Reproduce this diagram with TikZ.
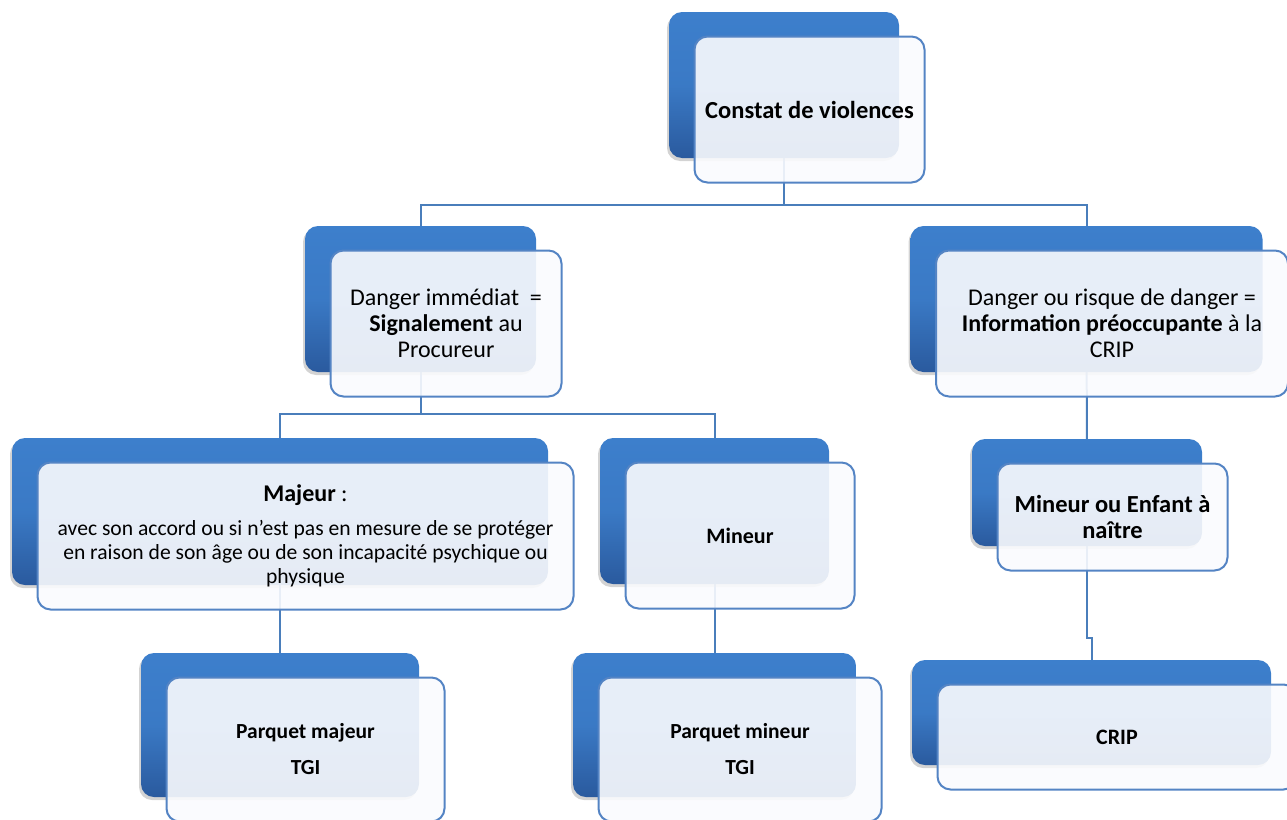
\documentclass[tikz,border=0pt]{standalone}
\usepackage{fontspec}
\setmainfont{Carlito}
\usetikzlibrary{shadows}
\definecolor{linec}{RGB}{74,126,187}
\definecolor{edgec}{RGB}{84,132,196}
\definecolor{backtop}{RGB}{61,127,204}
\definecolor{backbot}{RGB}{42,90,158}
\definecolor{frontc}{RGB}{250,251,254}
\tikzset{
  conn/.style={draw=linec, line width=2pt},
  backbox/.style={rectangle, rounded corners=13pt, top color=backtop, bottom color=backbot,
     middle color=backtop!85!backbot, draw=none, inner sep=0pt,
     drop shadow={shadow xshift=-2pt, shadow yshift=-3pt, opacity=0.35}},
  frontbox/.style={rectangle, rounded corners=13pt, draw=edgec, line width=2pt,
     fill=frontc, fill opacity=0.9, text opacity=1, inner sep=0pt, align=flush center,
     text=black},
}
\newcommand\mkpair[8]{%
  \node[backbox, minimum width=#4pt, minimum height=#5pt] (b#1) at (#2,#3) {};
  \node[frontbox, minimum width=#4pt, minimum height=#5pt, text width=#6pt, font={#7}] (f#1)
     at ([shift={(25.5,24.5)}]b#1.center) {#8};
}
\begin{document}
\begin{tikzpicture}[x=1pt,y=-1pt]
\useasboundingbox (0,0) rectangle (1287,819);
\clip (0,0) rectangle (1287,819);
% junction coordinates
\coordinate (j1) at (784,205);
\coordinate (j2) at (420.5,414);
\coordinate (j3) at (1091.5,638);
% back centres
\coordinate (c1) at (784,85);
\coordinate (c2) at (420.5,299);
\coordinate (c3) at (1086.5,299);
\coordinate (c4) at (280,511.5);
\coordinate (c5) at (714.5,511);
\coordinate (c6) at (1087,492.5);
\coordinate (c7) at (1091.5,712.5);
\coordinate (c8) at (280,725);
\coordinate (c9) at (714.5,725);
% connectors
\draw[conn] (c1) -- (j1);
\draw[conn] (c2) |- (j1) -| (c3);
\draw[conn] (c2) -- (j2);
\draw[conn] (c4) |- (j2) -| (c5);
\draw[conn] (c4) -- (c8);
\draw[conn] (c5) -- (c9);
\draw[conn] (c3) -- (c6);
\draw[conn] (c6) |- (j3) -- (c7);
% boxes
\mkpair{1}{784}{85}{230}{146}{226}{\fontsize{24.5}{26}\selectfont\bfseries}{Constat de violences}
\mkpair{2}{420.5}{299}{231}{146}{226}{\fontsize{24}{26}\selectfont}{Danger immédiat~ =\\ \textbf{Signalement} au\\ Procureur}
\mkpair{3}{1086.5}{299}{352}{146}{345}{\fontsize{24}{26}\selectfont}{Danger ou risque de danger =\\ \textbf{Information préoccupante} à la\\ CRIP}
\mkpair{4}{280}{511.5}{536}{147}{530}{\fontsize{21.6}{24}\selectfont}{\rule{0pt}{6pt}\\[-14pt]{\fontsize{24}{24}\selectfont\textbf{Majeur} :}\\[10pt] avec son accord ou si n’est pas en mesure de se protéger\\ en raison de son âge ou de son incapacité psychique ou\\ physique}
\mkpair{5}{714.5}{511}{229}{146}{220}{\fontsize{22}{24}\selectfont\bfseries}{Mineur}
\mkpair{6}{1087}{492.5}{230}{107}{225}{\fontsize{24.5}{26}\selectfont\bfseries}{Mineur ou Enfant à\\ naître}
\mkpair{7}{1091.5}{712.5}{359}{105}{340}{\fontsize{22}{24}\selectfont\bfseries}{CRIP}
\mkpair{8}{280}{725}{278}{144}{270}{\fontsize{21.5}{26}\selectfont\bfseries}{Parquet majeur\\[10pt] TGI}
\mkpair{9}{714.5}{725}{283}{144}{270}{\fontsize{21.5}{26}\selectfont\bfseries}{Parquet mineur\\[10pt] TGI}
\end{tikzpicture}
\end{document}
